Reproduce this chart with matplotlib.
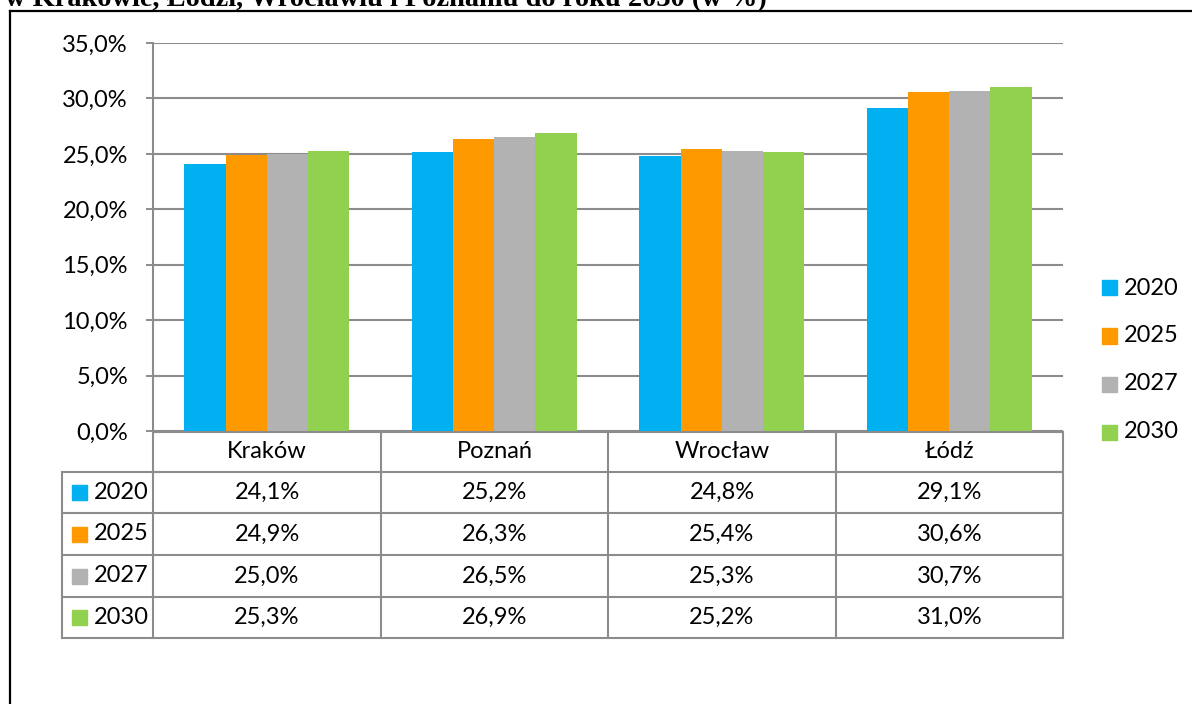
import matplotlib
matplotlib.use("Agg")
import matplotlib.pyplot as plt
from matplotlib.lines import Line2D
from matplotlib.patches import Rectangle
import numpy as np

cities = ["Kraków", "Poznań", "Wrocław", "Łódź"]
years = ["2020", "2025", "2027", "2030"]
v2020 = [24.1, 25.2, 24.8, 29.1]
v2025 = [24.9, 26.3, 25.4, 30.6]
v2027 = [25.0, 26.5, 25.3, 30.7]
v2030 = [25.3, 26.9, 25.2, 31.0]
series = [v2020, v2025, v2027, v2030]
colors = ["#00B0F0", "#FF9900", "#B2B2B2", "#92D050"]
yticks = [0, 5, 10, 15, 20, 25, 30, 35]
title = "w Krakowie, Łodzi, Wrocławiu i Poznaniu do roku 2030 (w %)"

W, H = 1192, 704
GRID = "#8c8c8c"
FONT = "Lato"
FS = 17

def fx(px):
    return px / W

def fy(py):
    return 1 - py / H

def pct(v):
    return ("%.1f%%" % v).replace(".", ",")

fig = plt.figure(figsize=(W / 100, H / 100), dpi=100)
plt.rcParams['font.family'] = [FONT, 'DejaVu Sans']

# frame
fig.add_artist(Line2D([fx(10), fx(10)], [fy(11), 0], color="black", lw=1.6))
fig.add_artist(Line2D([fx(10), 1], [fy(11), fy(11)], color="black", lw=1.6))

# cut-off title
t = fig.text(fx(5), fy(6), title, family="Liberation Serif", weight="bold",
             fontsize=20, va="baseline", ha="left")
r = fig.canvas.get_renderer()
w = t.get_window_extent(renderer=r).width
t.set_fontsize(20 * 760 / w)

ax = fig.add_axes([fx(153), fy(431), fx(1063) - fx(153), fy(43) - fy(431)])
x = np.arange(len(cities))
bw = 0.181
for i, vals in enumerate(series):
    ax.bar(x + (i - 1.5) * bw, vals, width=bw, color=colors[i], zorder=3)
ax.set_xlim(-0.5, len(cities) - 0.5)
ax.set_ylim(0, 35)
ax.set_yticks(yticks)
ax.set_yticklabels([pct(v) for v in yticks], fontsize=FS)
ax.tick_params(axis="y", length=5, width=1.4, color=GRID, pad=13)
ax.set_xticks([])
ax.grid(axis="y", color=GRID, lw=1.5, zorder=0)
for s in ["top", "right", "bottom"]:
    ax.spines[s].set_visible(False)
ax.spines["left"].set_color(GRID)
ax.spines["left"].set_linewidth(1.5)

# data table
col_edges = [153, 381, 608, 836, 1063]
row_edges = [432, 472, 513, 555, 597, 638]
lab_left = 62
lc = GRID
lw = 1.5
# horizontal lines
for j, ry in enumerate(row_edges):
    x0 = col_edges[0] if j == 0 else lab_left
    fig.add_artist(Line2D([fx(x0), fx(col_edges[-1])], [fy(ry), fy(ry)], color=lc, lw=lw))
# vertical lines
for cx in col_edges:
    fig.add_artist(Line2D([fx(cx), fx(cx)], [fy(row_edges[0]), fy(row_edges[-1])], color=lc, lw=lw))
fig.add_artist(Line2D([fx(lab_left), fx(lab_left)], [fy(row_edges[1]), fy(row_edges[-1])], color=lc, lw=lw))

for k, c in enumerate(cities):
    cx = (col_edges[k] + col_edges[k + 1]) / 2
    fig.text(fx(cx), fy((row_edges[0] + row_edges[1]) / 2), c, fontsize=FS, ha="center", va="center")
for i, vals in enumerate(series):
    cy = (row_edges[i + 1] + row_edges[i + 2]) / 2
    fig.add_artist(Rectangle((fx(72), fy(cy + 7.5)), fx(15), 15 / H, color=colors[i]))
    fig.text(fx(94), fy(cy), years[i], fontsize=FS, ha="left", va="center")
    for k, v in enumerate(vals):
        cx = (col_edges[k] + col_edges[k + 1]) / 2
        fig.text(fx(cx), fy(cy), pct(v), fontsize=FS, ha="center", va="center")

# legend
for i, yr in enumerate(years):
    cy = 288 + 48 * i
    fig.add_artist(Rectangle((fx(1102), fy(cy + 7.5)), fx(15), 15 / H, color=colors[i]))
    fig.text(fx(1124), fy(cy), yr, fontsize=FS, ha="left", va="center")

plt.savefig("out.png", dpi=100)
